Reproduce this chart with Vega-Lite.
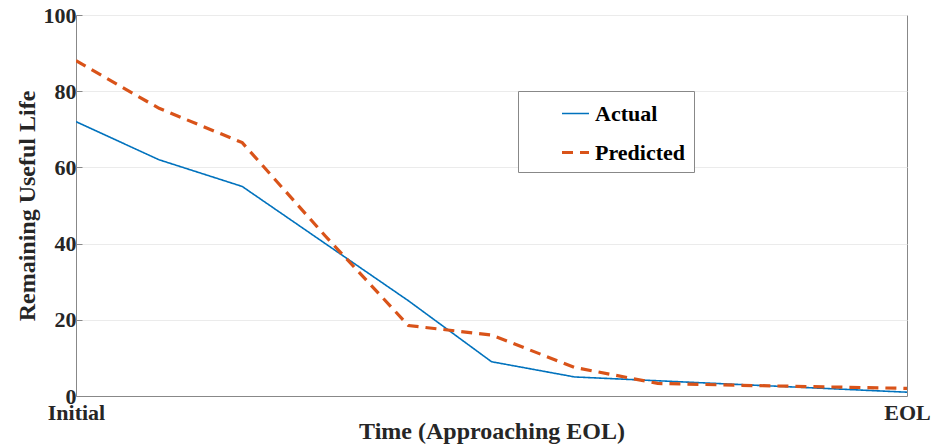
{
  "$schema": "https://vega.github.io/schema/vega-lite/v6.json",
  "width": 831,
  "height": 381,
  "autosize": {"type": "none"},
  "padding": {"left": 76, "top": 15, "right": 26, "bottom": 51},
  "background": "white",
  "config": {
    "font": "Liberation Serif",
    "view": {"stroke": "#888888", "strokeWidth": 1},
    "axis": {
      "labelFont": "Liberation Serif",
      "titleFont": "Liberation Serif",
      "labelFontWeight": "bold",
      "titleFontWeight": "bold",
      "labelFontSize": 22,
      "titleFontSize": 24,
      "labelColor": "#262626",
      "titleColor": "#262626",
      "domainColor": "#888888",
      "tickColor": "#888888",
      "gridColor": "#ebebeb",
      "gridWidth": 1
    }
  },
  "data": {
    "values": [
      {"t": 0, "series": "Actual", "rul": 72},
      {"t": 1, "series": "Actual", "rul": 62},
      {"t": 2, "series": "Actual", "rul": 55},
      {"t": 3, "series": "Actual", "rul": 40},
      {"t": 4, "series": "Actual", "rul": 25},
      {"t": 5, "series": "Actual", "rul": 9},
      {"t": 6, "series": "Actual", "rul": 5},
      {"t": 7, "series": "Actual", "rul": 4},
      {"t": 8, "series": "Actual", "rul": 3},
      {"t": 9, "series": "Actual", "rul": 2},
      {"t": 10, "series": "Actual", "rul": 1},
      {"t": 0, "series": "Predicted", "rul": 88},
      {"t": 1, "series": "Predicted", "rul": 75.5},
      {"t": 2, "series": "Predicted", "rul": 66.5},
      {"t": 3, "series": "Predicted", "rul": 42},
      {"t": 4, "series": "Predicted", "rul": 18.5},
      {"t": 5, "series": "Predicted", "rul": 16},
      {"t": 6, "series": "Predicted", "rul": 7.5},
      {"t": 7, "series": "Predicted", "rul": 3.3},
      {"t": 8, "series": "Predicted", "rul": 2.8},
      {"t": 9, "series": "Predicted", "rul": 2.4},
      {"t": 10, "series": "Predicted", "rul": 2}
    ]
  },
  "mark": {"type": "line", "clip": true},
  "encoding": {
    "x": {
      "field": "t",
      "type": "quantitative",
      "scale": {"domain": [0, 10], "nice": false, "zero": false},
      "axis": {
        "title": "Time (Approaching EOL)",
        "values": [0, 10],
        "labelExpr": "datum.value == 0 ? 'Initial' : 'EOL'",
        "grid": false,
        "tickSize": 0,
        "labelPadding": 6,
        "labelFlush": false,
        "titlePadding": -4
      }
    },
    "y": {
      "field": "rul",
      "type": "quantitative",
      "scale": {"domain": [0, 100], "nice": false},
      "axis": {
        "title": "Remaining Useful Life",
        "values": [0, 20, 40, 60, 80, 100],
        "tickSize": -6,
        "labelPadding": 6,
        "titlePadding": 4,
        "labelBaseline": "middle"
      }
    },
    "color": {
      "field": "series",
      "type": "nominal",
      "scale": {"domain": ["Actual", "Predicted"], "range": ["#0072BD", "#D95319"]},
      "legend": {
        "title": null,
        "orient": "none",
        "legendX": 442,
        "legendY": 76,
        "symbolType": "stroke",
        "symbolSize": 729,
        "symbolStrokeWidth": 2.5,
        "labelFont": "Liberation Serif",
        "labelFontWeight": "bold",
        "labelFontSize": 22,
        "labelColor": "#000000",
        "strokeColor": "#888888",
        "fillColor": "white",
        "padding": 8,
        "symbolOffset": 34,
        "rowPadding": 12,
        "labelOffset": 4
      }
    },
    "strokeDash": {
      "field": "series",
      "type": "nominal",
      "scale": {"domain": ["Actual", "Predicted"], "range": [[1, 0], [11, 7]]},
      "legend": null
    },
    "strokeWidth": {
      "field": "series",
      "type": "nominal",
      "scale": {"domain": ["Actual", "Predicted"], "range": [1.6, 3.2]},
      "legend": null
    }
  }
}
